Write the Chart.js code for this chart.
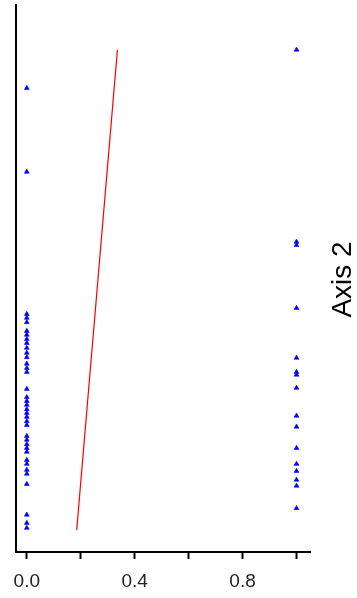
<!DOCTYPE html>
<html>
<head>
<meta charset="utf-8">
<title>Axis 2 scatter</title>
<script src="https://cdn.jsdelivr.net/npm/chart.js@4.4.1/dist/chart.umd.min.js"></script>
<style>
  html, body { margin: 0; padding: 0; background: #ffffff; }
  #wrap { position: relative; width: 357px; height: 598px; }
</style>
</head>
<body>
<div id="wrap"><canvas id="chart"></canvas></div>
<script>
// Group at x = 0
const groupAY = [84.8, 69.5, 43.5, 42.8, 42.0, 40.4, 39.7, 38.9, 38.2, 37.3, 36.4, 35.6,
  34.4, 33.6, 32.9, 29.8, 28.3, 27.6, 26.9, 26.1, 25.4, 24.7, 23.9, 23.2, 21.2, 20.5,
  19.7, 19.0, 18.3, 16.8, 16.1, 15.0, 14.3, 12.4, 6.8, 5.3, 4.4];
// Group at x = 1
const groupBY = [91.8, 56.7, 56.1, 44.6, 35.5, 32.9, 32.4, 30.0, 24.9, 22.9, 19.0,
  16.1, 14.8, 13.2, 12.1, 8.0];
const groupX = [0, 1];
// Fitted line endpoints
const fitX = [0.185, 0.336];
const fitY = [4.0, 91.8];
// Tick positions on the horizontal axis and the ones that carry labels
const xTicks = [0, 0.2, 0.4, 0.6, 0.8, 1.0];
const xTickLabels = ['0.0', '', '0.4', '', '0.8', ''];
const rightTitle = 'Axis 2';

const points = [];
groupAY.forEach(v => points.push({ x: groupX[0], y: v }));
groupBY.forEach(v => points.push({ x: groupX[1], y: v }));
const fitLine = fitX.map((x, i) => ({ x: x, y: fitY[i] }));

// Rotated title on the right side, reading bottom to top
const rightTitlePlugin = {
  id: 'rightTitle',
  afterDraw(chart) {
    const ctx = chart.ctx;
    const area = chart.chartArea;
    ctx.save();
    ctx.translate(area.right + 33, (area.top + area.bottom) / 2 + 1);
    ctx.rotate(-Math.PI / 2);
    ctx.font = '28px "Liberation Sans", Arial, sans-serif';
    ctx.fillStyle = '#000000';
    ctx.textAlign = 'center';
    ctx.textBaseline = 'middle';
    ctx.fillText(rightTitle, 0, 0);
    ctx.restore();
  }
};

new Chart(document.getElementById('chart'), {
  type: 'scatter',
  data: {
    datasets: [
      {
        data: points,
        pointStyle: 'triangle',
        pointRadius: 2.8,
        pointHoverRadius: 2.8,
        backgroundColor: '#0000ff',
        borderColor: '#0000ff',
        borderWidth: 0.6,
        showLine: false
      },
      {
        data: fitLine,
        showLine: true,
        borderColor: '#ff0000',
        borderWidth: 1.2,
        pointRadius: 0,
        fill: false
      }
    ]
  },
  options: {
    responsive: true,
    maintainAspectRatio: false,
    animation: false,
    devicePixelRatio: 1,
    layout: { padding: { left: 0, right: 47, top: 5, bottom: 0 } },
    plugins: {
      legend: { display: false },
      tooltip: { enabled: false },
      title: { display: false }
    },
    scales: {
      x: {
        type: 'linear',
        min: -0.04,
        max: 1.05,
        afterBuildTicks(scale) {
          scale.ticks = xTicks.map(v => ({ value: v }));
        },
        afterFit(scale) { scale.height = 46; },
        border: { display: true, color: '#000000', width: 2 },
        grid: {
          drawOnChartArea: false,
          drawTicks: true,
          tickLength: 7,
          tickWidth: 2,
          tickColor: '#000000'
        },
        ticks: {
          autoSkip: false,
          maxRotation: 0,
          padding: 11,
          color: '#222222',
          font: { family: '"Liberation Sans", Arial, sans-serif', size: 19 },
          callback(value, index) { return xTickLabels[index]; }
        }
      },
      y: {
        type: 'linear',
        min: 0,
        max: 100,
        afterFit(scale) { scale.width = 16; },
        border: { display: true, color: '#000000', width: 2 },
        grid: { display: false, drawTicks: false },
        ticks: { display: false }
      }
    }
  },
  plugins: [rightTitlePlugin]
});
</script>
</body>
</html>
